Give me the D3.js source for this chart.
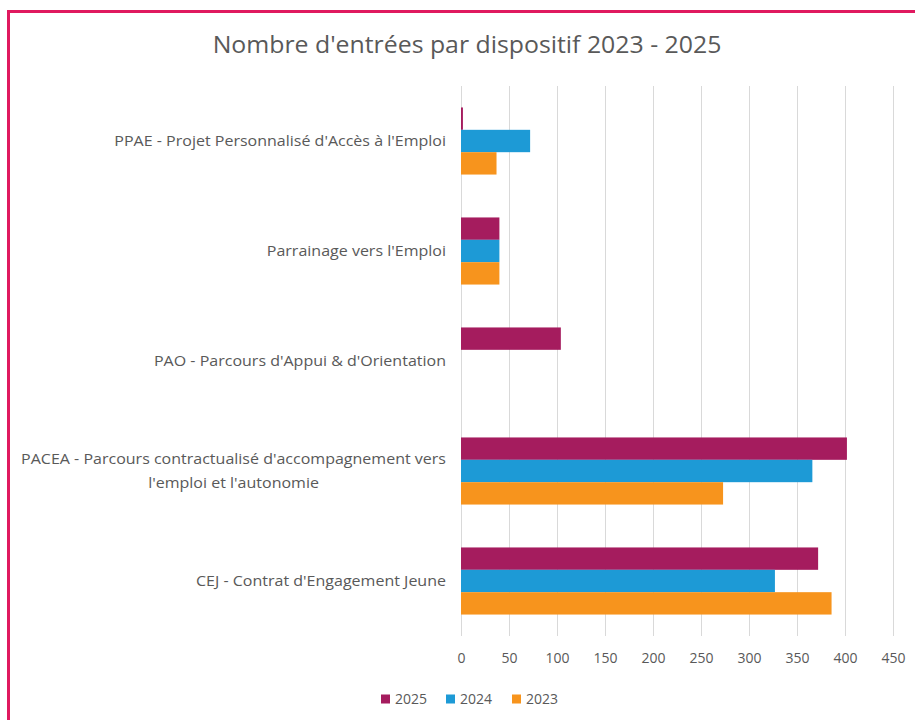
<!DOCTYPE html>
<html>
<head>
<meta charset="utf-8">
<script src="https://cdn.jsdelivr.net/npm/d3@7"></script>
<style>
  html, body { margin: 0; padding: 0; background: #fff; }
  svg { display: block; }
  text { font-family: "Open Sans", sans-serif; fill: #595959; }
</style>
</head>
<body>
<svg id="chart" width="915" height="720"></svg>
<script>
const titleText = "Nombre d'entrées par dispositif 2023 - 2025";
const categories = [
  "PPAE - Projet Personnalisé d'Accès à l'Emploi",
  "Parrainage vers l'Emploi",
  "PAO - Parcours d'Appui & d'Orientation",
  "PACEA - Parcours contractualisé d'accompagnement vers l'emploi et l'autonomie",
  "CEJ - Contrat d'Engagement Jeune"
];
const categoryLines = [
  ["PPAE - Projet Personnalisé d'Accès à l'Emploi"],
  ["Parrainage vers l'Emploi"],
  ["PAO - Parcours d'Appui & d'Orientation"],
  ["PACEA - Parcours contractualisé d'accompagnement vers", "l'emploi et l'autonomie"],
  ["CEJ - Contrat d'Engagement Jeune"]
];
const seriesNames = ["2025", "2024", "2023"];
const values2025 = [2, 40, 104, 402, 372];
const values2024 = [72, 40, 0, 366, 327];
const values2023 = [37, 40, 0, 273, 386];
const tickValues = [0, 50, 100, 150, 200, 250, 300, 350, 400, 450];
const colors = ["#A51C5E", "#1D9AD6", "#F7941D"];

const seriesValues = [values2025, values2024, values2023];

const svg = d3.select("#chart");

// outer border (top and left)
svg.append("line").attr("x1", 8.5).attr("x2", 915).attr("y1", 11.5).attr("y2", 11.5)
  .attr("stroke", "#E0195F").attr("stroke-width", 3);
svg.append("line").attr("x1", 8.5).attr("x2", 8.5).attr("y1", 10).attr("y2", 720)
  .attr("stroke", "#E0195F").attr("stroke-width", 3);

// title (slightly stretched horizontally like the reference)
svg.append("g").attr("transform", "translate(467,53) scale(1.08,1)")
  .append("text")
  .attr("x", 0).attr("y", 0)
  .attr("text-anchor", "middle")
  .style("font-size", "23px")
  .text(titleText);

const x = d3.scaleLinear().domain([0, 450]).range([461, 893]);
const y0 = d3.scaleBand().domain(categories).range([86, 636]).paddingInner(0.39).paddingOuter(0.195);
const y1 = d3.scaleBand().domain(seriesNames).range([0, y0.bandwidth()]);

// gridlines
svg.append("g").selectAll("line").data(tickValues).join("line")
  .attr("x1", d => x(d) + 0.5).attr("x2", d => x(d) + 0.5)
  .attr("y1", 86).attr("y2", 636)
  .attr("stroke", "#D9D9D9").attr("stroke-width", 1);

// bars
const groups = svg.append("g").selectAll("g").data(categories).join("g")
  .attr("transform", d => `translate(0,${y0(d)})`);
groups.selectAll("rect")
  .data((d, i) => seriesNames.map((s, j) => ({ s, v: seriesValues[j][i], c: colors[j] })))
  .join("rect")
  .attr("x", x(0))
  .attr("y", d => y1(d.s))
  .attr("width", d => x(d.v) - x(0))
  .attr("height", y1.bandwidth())
  .attr("fill", d => d.c);

// x axis labels
const xAxis = d3.axisBottom(x).tickValues(tickValues).tickSize(0).tickPadding(0);
const ax = svg.append("g").attr("transform", "translate(0,653)").call(xAxis);
ax.select(".domain").remove();
ax.selectAll("text").style("font-size", "14px").attr("fill", "#595959")
  .style("font-family", "'Open Sans', sans-serif");

// category labels (stretched horizontally, right-aligned at x = 446)
const labelSize = "14px";
const labelGroup = svg.append("g").attr("transform", "translate(446,0) scale(1.145,1)");
categories.forEach((c, i) => {
  const lines = categoryLines[i];
  const cy = y0(c) + y0.bandwidth() / 2;
  const lh = 24;
  const t = labelGroup.append("text").style("font-size", labelSize);
  if (lines.length === 1) {
    t.attr("text-anchor", "end").attr("x", 0).attr("y", cy + 5).text(lines[0]);
  } else {
    const tmp = labelGroup.append("text").style("font-size", labelSize).text(lines[0]);
    const w = tmp.node().getComputedTextLength();
    tmp.remove();
    const cx = -w / 2;
    lines.forEach((ln, k) => {
      t.append("tspan").attr("x", cx).attr("text-anchor", "middle")
        .attr("y", cy + 5 + (k - (lines.length - 1) / 2) * lh)
        .text(ln);
    });
  }
});

// legend
const legend = svg.append("g").attr("transform", "translate(381,699)");
const legX = [0, 65, 131];
seriesNames.forEach((s, i) => {
  legend.append("rect").attr("x", legX[i]).attr("y", -4.5).attr("width", 9).attr("height", 9).attr("fill", colors[i]);
  legend.append("text").attr("x", legX[i] + 14).attr("y", 5).style("font-size", "14px").text(s);
});
</script>
</body>
</html>
